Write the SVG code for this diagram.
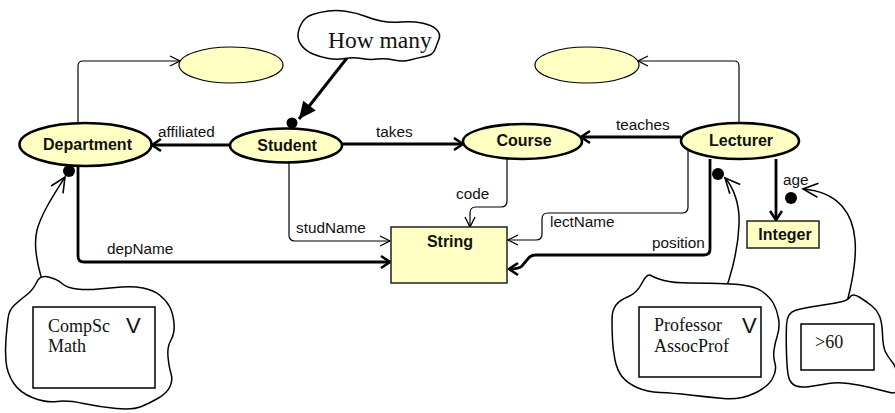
<svg xmlns="http://www.w3.org/2000/svg" width="895" height="413" viewBox="0 0 895 413">
<style>
.node{fill:#ffffc4;stroke:#000;stroke-width:2.6}
.plain{fill:#ffffc4;stroke:#000;stroke-width:1.2}
.box{fill:#ffffc4;stroke:#222;stroke-width:1.5}
.nl{font-family:"Liberation Sans",Arial,sans-serif;font-weight:bold;font-size:16px;fill:#111;text-anchor:middle}
.lbl{font-family:"Liberation Sans",Arial,sans-serif;font-size:15.3px;fill:#111}
.ser{font-family:"Liberation Serif","Times New Roman",serif;font-size:18px;fill:#111}
.v{font-family:"Liberation Sans",Arial,sans-serif;font-size:22px;fill:#111}
.thin{fill:none;stroke:#000;stroke-width:1.2;marker-end:url(#aThin)}
.thick{fill:none;stroke:#000;stroke-width:2.8;marker-end:url(#aThick)}
.curve{fill:none;stroke:#000;stroke-width:1.5;marker-end:url(#aCurve)}
.cloud{fill:#fff;stroke:#000;stroke-width:1.5}
.cbox{fill:#fff;stroke:#000;stroke-width:1.5}
.dot{fill:#000}
</style>
<defs>
<marker id="aThin" markerUnits="userSpaceOnUse" viewBox="-12 -7 14 14" refX="0" refY="0" markerWidth="14" markerHeight="14" orient="auto"><path d="M-10,-5 L0,0 L-10,5" fill="none" stroke="#000" stroke-width="1.3"/></marker>
<marker id="aThick" markerUnits="userSpaceOnUse" viewBox="-13 -9 16 18" refX="0" refY="0" markerWidth="16" markerHeight="18" orient="auto"><path d="M-9,-6 L0,0 L-9,6" fill="none" stroke="#000" stroke-width="2.6"/></marker>
<marker id="aCurve" markerUnits="userSpaceOnUse" viewBox="-17 -10 20 20" refX="0" refY="0" markerWidth="20" markerHeight="20" orient="auto"><path d="M-15,-7 L0,0 L-15,7" fill="none" stroke="#000" stroke-width="1.6"/></marker>
<marker id="aFill" markerUnits="userSpaceOnUse" viewBox="-19 -10 21 20" refX="0" refY="0" markerWidth="21" markerHeight="20" orient="auto"><path d="M-17,-8 L0,0 L-17,8 Z" fill="#000"/></marker>
</defs>

<g id="connectors">
<path class="thin" d="M78,123 L78,66 Q78,61 83,61 L180,61"/>
<path class="thin" d="M739,123 L739,66 Q739,61 734,61 L638,61"/>
<path class="thick" d="M230,145 L152,145"/>
<path class="thick" d="M342,144 L463,144"/>
<path class="thick" d="M681,137 L581,137"/>
<path class="thin" d="M507,159 L507,201 Q507,207 501,207 L476,207 Q470,207 470,213 L470,227"/>
<path class="thin" d="M289,162 L289,235 Q289,241 295,241 L390,241"/>
<path class="thick" d="M78,166 L78,256 Q78,262 84,262 L390,262"/>
<path class="thin" d="M688,150 L688,207 Q688,213 682,213 L548,213 Q542,213 542,219 L542,234 Q542,240 536,240 L508,240"/>
<path class="thick" d="M710,159 L710,249 Q710,255 704,255 L536,255 Q530,255 527,260 L522,266 Q519,269 509,269"/>
<path class="thick" d="M776,159 L776,220"/>
<path fill="none" stroke="#000" stroke-width="3" marker-end="url(#aFill)" d="M347,58 L299,119"/>
<circle class="dot" cx="292" cy="123" r="5.5"/>
<circle class="dot" cx="69" cy="171" r="6"/>
<circle class="dot" cx="718" cy="174" r="6"/>
<circle class="dot" cx="791" cy="198" r="6"/>
<path class="curve" d="M51,305 C40,278 32,250 37,230 C42,212 55,193 65,177"/>
<path class="curve" d="M720,305 C730,280 738,250 739,225 C740,205 734,188 725,178"/>
<path class="curve" d="M840,324 C850,297 857,262 855,240 C853,215 840,192 803,189"/>
<text class="lbl" x="158" y="137">affiliated</text>
<text class="lbl" x="376" y="137">takes</text>
<text class="lbl" x="616" y="130">teaches</text>
<text class="lbl" x="456" y="199">code</text>
<text class="lbl" x="296" y="233">studName</text>
<text class="lbl" x="107" y="254">depName</text>
<text class="lbl" x="550" y="227">lectName</text>
<text class="lbl" x="652" y="248">position</text>
<text class="lbl" x="783" y="185">age</text>
</g>

<g id="anon1"><ellipse class="plain" cx="231" cy="65" rx="52" ry="18"/></g>
<g id="anon2"><ellipse class="plain" cx="587" cy="65" rx="52" ry="18"/></g>
<g id="department"><ellipse class="node" cx="85.5" cy="144.5" rx="66" ry="21.5"/><text class="nl" x="87.5" y="149.5">Department</text></g>
<g id="student"><ellipse class="node" cx="286" cy="145.5" rx="56" ry="17"/><text class="nl" x="287" y="150.5">Student</text></g>
<g id="course"><ellipse class="node" cx="522.5" cy="141.5" rx="59.5" ry="17.5"/><text class="nl" x="524" y="146">Course</text></g>
<g id="lecturer"><ellipse class="node" cx="740" cy="141" rx="59" ry="18"/><text class="nl" x="741" y="146">Lecturer</text></g>
<g id="string"><rect class="box" x="391" y="227" width="116" height="56"/><text class="nl" x="450" y="247">String</text></g>
<g id="integer"><rect class="box" x="747" y="221" width="72" height="27"/><text class="nl" x="785" y="240">Integer</text></g>

<g id="howmany">
<path class="cloud" d="M298,35.5 Q298,30 301.5,23.5 Q305,17 312.5,14.5 Q320,12 328.5,11 Q337,10 347,11.5 Q357,13 364.5,16 Q372,19 381,21 Q390,23 401,22 Q412,21 422,23 Q432,25 436.5,29.5 Q441,34 439,39 Q437,44 435,49.5 Q433,55 425,56.5 Q417,58 410,60 Q403,62 394,60 Q385,58 377.5,59 Q370,60 361.5,58.5 Q353,57 345,58.5 Q337,60 328.5,58.5 Q320,57 313,54 Q306,51 302,46 Q298,41 298,35.5 Z"/>
<text class="ser" style="font-size:23.5px" x="328" y="48">How many</text>
</g>

<g id="depvalues">
<path class="cloud" d="M36.5,282.5 Q40,275 48.5,277 Q57,279 62,283.5 Q67,288 77,289 Q87,290 98.5,289 Q110,288 121.5,287 Q133,286 143,288 Q153,290 159.5,295 Q166,300 169.5,306.5 Q173,313 174,323 Q175,333 171,340 Q167,347 168,357 Q169,367 171,373.5 Q173,380 170,386.5 Q167,393 158.5,398 Q150,403 141.5,406.5 Q133,410 116.5,408.5 Q100,407 83.5,403.5 Q67,400 57,401.5 Q47,403 33.5,398 Q20,393 13.5,383 Q7,373 6,361.5 Q5,350 6,338.5 Q7,327 8,318.5 Q9,310 14.5,305 Q20,300 26.5,295 Q33,290 36.5,282.5 Z"/>
<rect class="cbox" x="33" y="307" width="122" height="81"/>
<text class="ser" x="48" y="332">CompSc</text>
<text class="ser" x="48" y="352">Math</text>
<text class="v" x="126" y="333">V</text>
</g>

<g id="posvalues">
<path class="cloud" d="M642,283 Q647,273 651,275.5 Q655,278 664,280.5 Q673,283 690,283 Q707,283 730,284 Q753,285 761.5,291 Q770,297 773.5,303.5 Q777,310 778.5,318.5 Q780,327 777.5,335 Q775,343 774,350 Q773,357 775,363.5 Q777,370 772.5,378.5 Q768,387 754,393.5 Q740,400 723.5,398.5 Q707,397 690,395 Q673,393 660,392.5 Q647,392 637,387.5 Q627,383 622,376.5 Q617,370 615,360 Q613,350 612.5,340 Q612,330 612,320 Q612,310 616,305 Q620,300 628.5,296.5 Q637,293 642,283 Z"/>
<rect class="cbox" x="639" y="307" width="122" height="70"/>
<text class="ser" x="654" y="331">Professor</text>
<text class="ser" x="654" y="352">AssocProf</text>
<text class="v" x="742" y="333">V</text>
</g>

<g id="agevalues">
<path class="cloud" d="M786.5,325 Q787,313 795,310.5 Q803,308 820,305.5 Q837,303 842.5,301.5 Q848,300 850.5,296.5 Q853,293 860,297.5 Q867,302 872,306 Q877,310 879.5,316 Q882,322 882.5,334.5 Q883,347 885.5,352 Q888,357 892.5,362.5 Q897,368 898.5,381.5 Q900,395 890,392.5 Q880,390 870,387.5 Q860,385 848.5,383.5 Q837,382 828.5,383.5 Q820,385 810,386.5 Q800,388 795,385.5 Q790,383 788.5,376.5 Q787,370 786.5,353.5 Q786,337 786.5,325 Z"/>
<rect class="cbox" x="801" y="324" width="73" height="46"/>
<text class="ser" x="815" y="348">&gt;60</text>
</g>
</svg>
